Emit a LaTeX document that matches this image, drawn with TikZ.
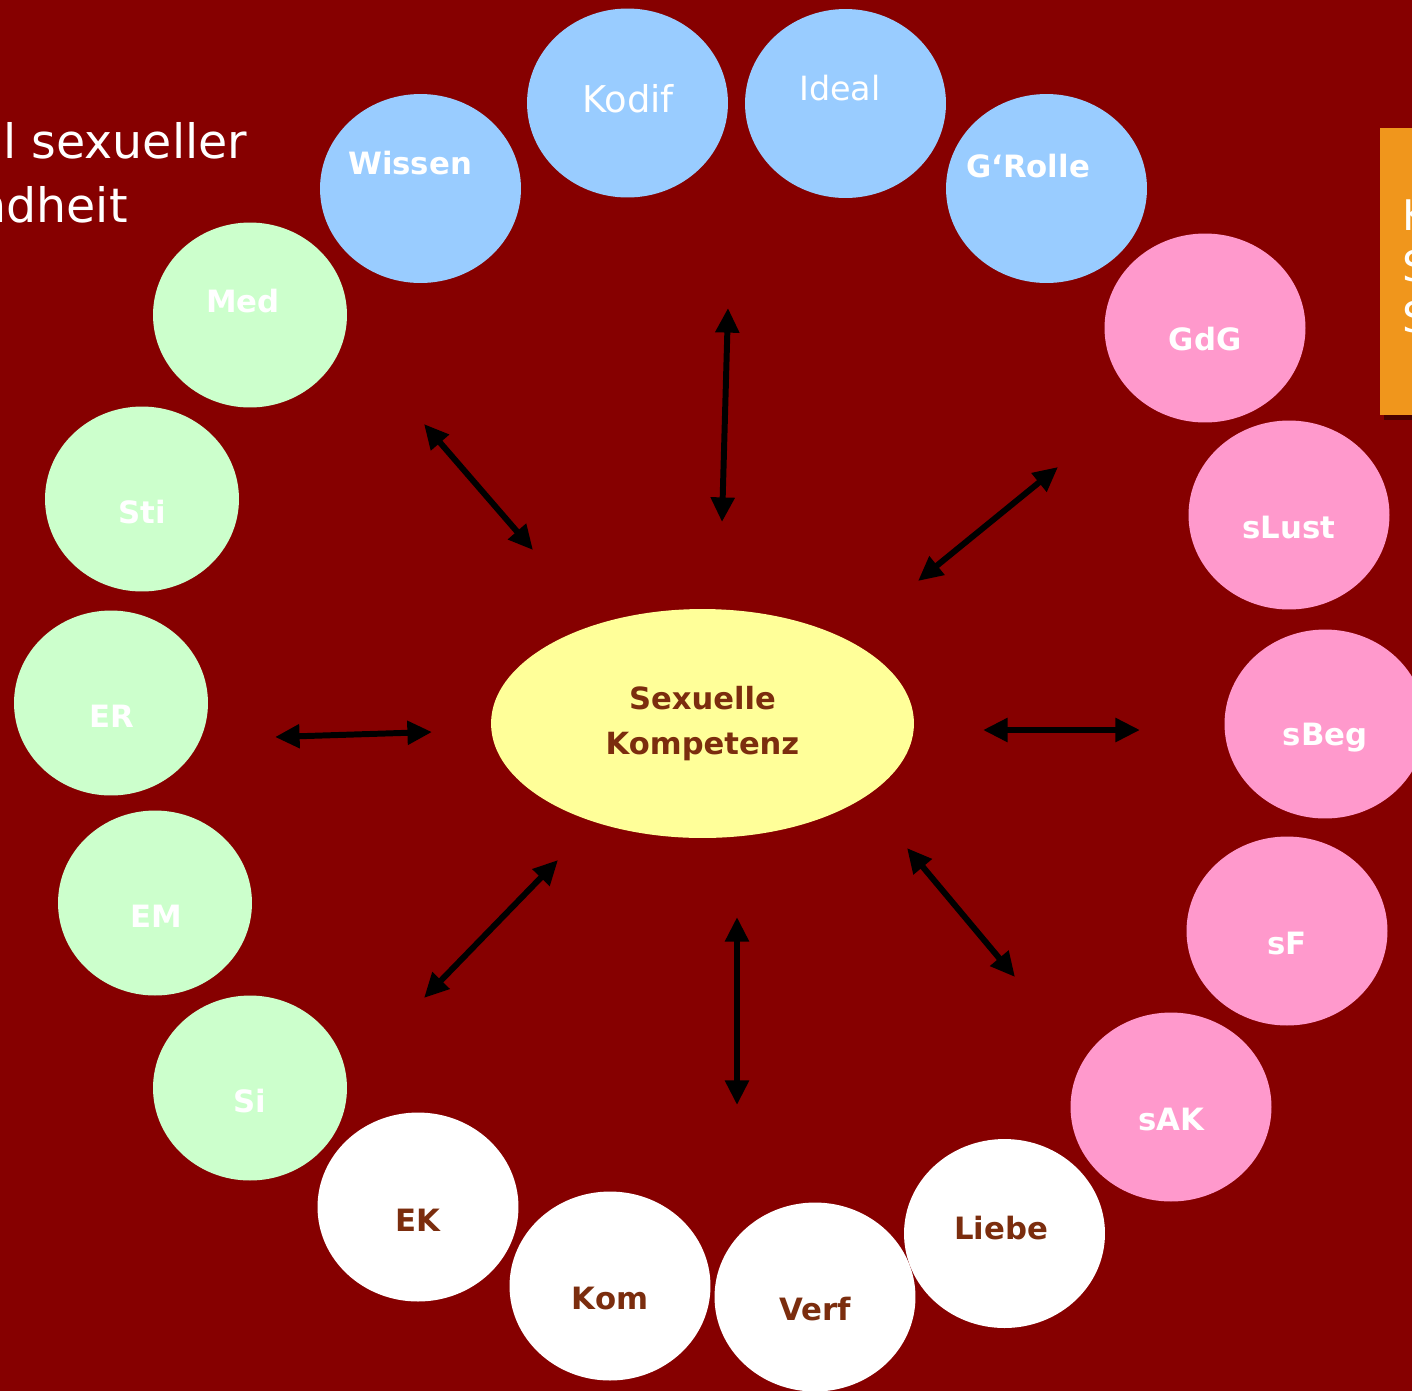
\documentclass[tikz,border=0pt]{standalone}
\usepackage{fontspec}
\setmainfont{DejaVu Sans}
\usetikzlibrary{shapes.geometric, arrows.meta}
\definecolor{bg-red}{HTML}{860000}
\definecolor{bubble-blue}{HTML}{99CCFF}
\definecolor{bubble-pink}{HTML}{FF99CC}
\definecolor{bubble-green}{HTML}{CCFFCC}
\definecolor{core-yellow}{HTML}{FFFF99}
\definecolor{text-brown}{HTML}{7B2D0E}
\definecolor{tab-orange}{HTML}{F0961C}

\begin{document}
\begin{tikzpicture}[x=0.02cm, y=-0.02cm,
        bubble/.style={ellipse, inner sep=0pt, minimum width=4.02cm, minimum height=3.78cm},
        small bubble/.style={ellipse, inner sep=0pt, minimum width=3.88cm, minimum height=3.7cm, fill=bubble-green},
        lbl/.style={text=white, inner sep=0pt, text depth=0pt, font=\bfseries\fontsize{17.5}{20}\selectfont},
        dark lbl/.style={lbl, text=text-brown},
        link/.style={line width=3.4pt, {Triangle[length=14pt,width=13pt]}-{Triangle[length=14pt,width=13pt]}}]
      \useasboundingbox (0,0) rectangle (1412,1390);
      \clip (0,0) rectangle (1412,1390);
      \fill[bg-red] (-10,-10) rectangle (1422,1400);

      % title and side tab, cut by the frame
      \node[anchor=base west, text=white, inner sep=0pt, font=\fontsize{27}{32}\selectfont] (title-a) at (3,158) {l sexueller};
      \node[anchor=base east, text=white, inner sep=0pt, font=\fontsize{27}{32}\selectfont] (title-b) at (128,222) {ndheit};
      \fill[black, opacity=0.45] (1384,133) rectangle (1420,420);
      \fill[tab-orange] (1380,128) rectangle (1420,415);
      \node[anchor=base west, text=white, inner sep=0pt, font=\fontsize{24}{28}\selectfont] (tab-a) at (1402,230) {K};
      \node[anchor=base west, text=white, inner sep=0pt, font=\fontsize{24}{28}\selectfont] (tab-b) at (1402,281) {S};
      \node[anchor=base west, text=white, inner sep=0pt, font=\fontsize{24}{28}\selectfont] (tab-c) at (1402,332) {S};

      % blue
      \node[bubble, fill=bubble-blue] (wissen) at (420.5,188.5) {};
      \node[bubble, fill=bubble-blue] (kodif) at (627.5,103) {};
      \node[bubble, fill=bubble-blue] (ideal) at (845.5,103.5) {};
      \node[bubble, fill=bubble-blue] (grolle) at (1046.5,188.5) {};
      \node[lbl] (wissen-t) at (410,163) {Wissen};
      \node[lbl, font=\fontsize{21}{24}\selectfont] (kodif-t) at (628,98) {Kodif};
      \node[lbl, font=\fontsize{19}{22}\selectfont] (ideal-t) at (840,88) {Ideal};
      \node[lbl] (grolle-t) at (1028,166) {G‘Rolle};

      % pink
      \node[bubble, fill=bubble-pink] (gdg) at (1205,328) {};
      \node[bubble, fill=bubble-pink] (slust) at (1289,515) {};
      \node[bubble, fill=bubble-pink] (sbeg) at (1325,724) {};
      \node[bubble, fill=bubble-pink] (sf) at (1287,931) {};
      \node[bubble, fill=bubble-pink] (sak) at (1171,1107) {};
      \node[lbl] (gdg-t) at (1205,339) {GdG};
      \node[lbl] (slust-t) at (1289,527) {sLust};
      \node[lbl] (sbeg-t) at (1325,734) {sBeg};
      \node[lbl] (sf-t) at (1287,943) {sF};
      \node[lbl] (sak-t) at (1171,1119) {sAK};

      % green
      \node[small bubble] (med) at (250,315) {};
      \node[small bubble] (sti) at (142,499) {};
      \node[small bubble] (er) at (111,703) {};
      \node[small bubble] (em) at (155,903) {};
      \node[small bubble] (si) at (250,1088) {};
      \node[lbl] (med-t) at (243,301) {Med};
      \node[lbl] (sti-t) at (142,512) {Sti};
      \node[lbl] (er-t) at (112,716) {ER};
      \node[lbl] (em-t) at (156,916) {EM};
      \node[lbl] (si-t) at (250,1101) {Si};

      % white
      \node[bubble, fill=white] (ek) at (418,1207) {};
      \node[bubble, fill=white] (kom) at (610,1286) {};
      \node[bubble, fill=white] (verf) at (815,1297) {};
      \node[bubble, fill=white] (liebe) at (1004.5,1233.5) {};
      \node[dark lbl] (ek-t) at (418,1220) {EK};
      \node[dark lbl] (kom-t) at (610,1298) {Kom};
      \node[dark lbl] (verf-t) at (815,1309) {Verf};
      \node[dark lbl] (liebe-t) at (1001,1228) {Liebe};

      \node[ellipse, fill=core-yellow, inner sep=0pt, minimum width=8.46cm, minimum height=4.58cm,
            align=center, text=text-brown, font=\bfseries\fontsize{17.4}{25.5}\selectfont]
            (core) at (702.5,723.5) {Sexuelle\\Kompetenz};

      \coordinate (n-out) at (728,308);   \coordinate (n-in) at (722,522);
      \coordinate (nw-out) at (424,424);  \coordinate (nw-in) at (533,550);
      \coordinate (ne-out) at (1058,467); \coordinate (ne-in) at (918,581);
      \coordinate (w-out) at (275,737);   \coordinate (w-in) at (432,732);
      \coordinate (e-out) at (1140,730);  \coordinate (e-in) at (983,730);
      \coordinate (sw-out) at (424,998);  \coordinate (sw-in) at (558,860);
      \coordinate (s-out) at (737,1105);  \coordinate (s-in) at (737,917);
      \coordinate (se-out) at (1015,977); \coordinate (se-in) at (907,848);
      \foreach \d in {n,nw,ne,w,e,sw,s,se}
        \draw[link] (\d-out) -- (\d-in);
    \end{tikzpicture}
\end{document}
